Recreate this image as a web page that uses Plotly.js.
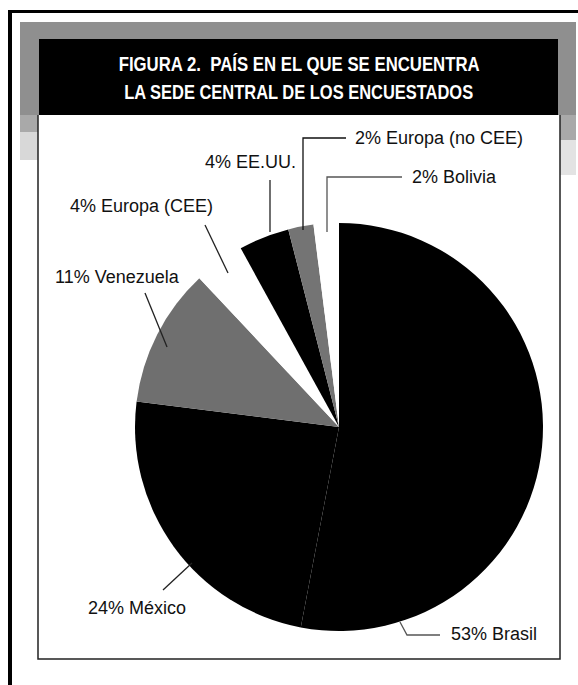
<!DOCTYPE html>
<html>
<head>
<meta charset="utf-8">
<script src="https://cdn.plot.ly/plotly-3.0.1.min.js"></script>
<style>html,body{margin:0;padding:0;background:#fff;}#chart{width:578px;height:685px;}</style>
</head>
<body>
<div id="chart"></div>
<script>
// ---- data ----
var countries = ["Brasil", "México", "Venezuela", "Europa (CEE)", "EE.UU.", "Europa (no CEE)", "Bolivia"];
var percents = [53, 24, 11, 4, 4, 2, 2];
var sliceColors = ["#000000", "#000000", "#6f6f6f", "#ffffff", "#000000", "#747474", "#ffffff"];
var titleLines = ["FIGURA 2.  PAÍS EN EL QUE SE ENCUENTRA", "LA SEDE CENTRAL DE LOS ENCUESTADOS"];

// ---- layout helpers (pixel -> paper) ----
var W = 578, H = 685;
function px(x){ return x / W; }
function py(y){ return 1 - y / H; }

var cx = 339, cy = 427, r = 204;

// label placement (pixels): [x, y, anchor]
var labelPos = [
  [449, 634, "left"],
  [86, 608, "left"],
  [53, 277, "left"],
  [68, 206, "left"],
  [298, 162, "right"],
  [353, 138, "left"],
  [410, 177, "left"]
];
// leader lines (pixels)
var leaders = [
  [[400,622],[407,635],[440,635]],
  [[163,590],[192,563]],
  [[145,293],[167,347]],
  [[205,225],[228,273]],
  [[270,180],[270,232]],
  [[346,138],[303,138],[303,230]],
  [[402,177],[327,177],[327,232]]
];
var leaderColors = ["#555","#222","#222","#222","#222","#111","#555"];
var titleWidths = [361, 349];

var shapes = [];
function rect(x0,y0,x1,y1,fill,opts){
  var s = {type:"rect", xref:"paper", yref:"paper", x0:px(x0), x1:px(x1), y0:py(y1), y1:py(y0),
           fillcolor:fill, line:{width:0}, layer:"below"};
  if (opts) for (var k in opts) s[k]=opts[k];
  shapes.push(s);
}
// outer frame
rect(8,10,578,13,"#000");
rect(8,10,12,685,"#000");
// gray halftone header
rect(20,22,576,115,"#8f8f8f");
rect(20,115,38,132,"#9a9a9a",{opacity:0.85});
rect(20,132,38,160,"#b8b8b8",{opacity:0.55});
rect(560,115,576,140,"#9a9a9a",{opacity:0.85});
rect(560,140,576,175,"#c0c0c0",{opacity:0.45});
// black title box
rect(39,39,558,115,"#000");
// inner content box border
shapes.push({type:"path", xref:"paper", yref:"paper",
  path:"M"+px(38)+","+py(115)+" L"+px(38)+","+py(659)+" L"+px(560)+","+py(659)+" L"+px(560)+","+py(115),
  line:{color:"#222", width:1.5}, layer:"below"});

leaders.forEach(function(pts,i){
  var p = pts.map(function(q,j){ return (j?"L":"M")+px(q[0])+","+py(q[1]); }).join(" ");
  shapes.push({type:"path", xref:"paper", yref:"paper", path:p, line:{color:leaderColors[i], width:1.3}});
});

var annotations = [];
titleLines.forEach(function(t,i){
  annotations.push({xref:"paper", yref:"paper", x:px(298.5), y:py(i===0?63.5:91), xanchor:"center", yanchor:"middle",
    text:t, showarrow:false,
    font:{family:"Liberation Sans, Arial, sans-serif", size:21, color:"#fff", weight:"bold"}});
});
countries.forEach(function(c,i){
  var lp = labelPos[i];
  annotations.push({xref:"paper", yref:"paper", x:px(lp[0]), y:py(lp[1]), xanchor:lp[2], yanchor:"middle",
    text:percents[i]+"% "+c, showarrow:false,
    font:{family:"Liberation Sans, Arial, sans-serif", size:18, color:"#111"}});
});

var trace = {
  type:"pie",
  labels:countries,
  values:percents,
  sort:false,
  direction:"clockwise",
  rotation:0,
  textinfo:"none",
  hoverinfo:"label+percent",
  marker:{colors:sliceColors, line:{width:0}},
  domain:{x:[px(cx-r), px(cx+r)], y:[py(cy+r), py(cy-r)]},
  showlegend:false
};

var layout = {
  width:W, height:H,
  margin:{l:0,r:0,t:0,b:0},
  paper_bgcolor:"#fff",
  showlegend:false,
  shapes:shapes,
  annotations:annotations
};

Plotly.newPlot("chart",[trace],layout,{displayModeBar:false, staticPlot:true}).then(function(gd){
  // condense the title lines to mimic a narrow bold typeface
  var texts = gd.querySelectorAll("g.annotation text.annotation-text");
  for (var i = 0; i < titleLines.length && i < texts.length; i++){
    var t = texts[i];
    var bb = t.getBBox();
    var cxT = bb.x + bb.width/2;
    t.setAttribute("textLength", titleWidths[i]);
    t.setAttribute("lengthAdjust", "spacingAndGlyphs");
    t.setAttribute("text-anchor", "middle");
    t.setAttribute("x", cxT);
  }
});
</script>
</body>
</html>
